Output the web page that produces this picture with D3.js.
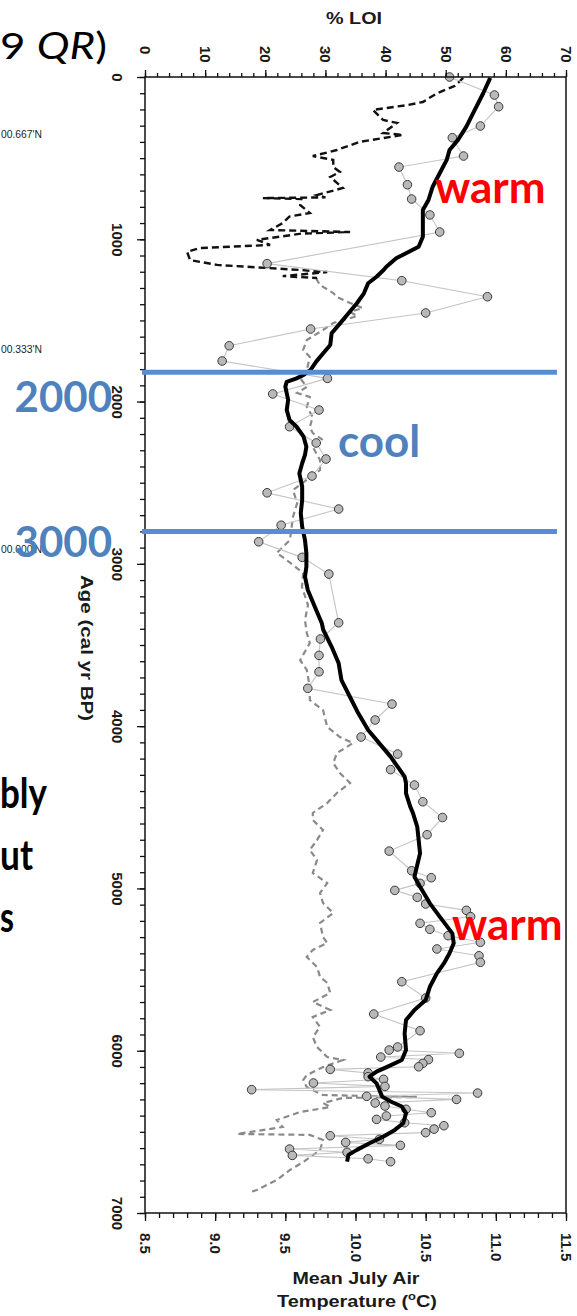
<!DOCTYPE html>
<html><head><meta charset="utf-8">
<script src="https://cdn.jsdelivr.net/npm/d3@7"></script>
<style>body{margin:0;background:#fff;} svg{display:block;}</style>
</head><body><svg id="c" width="577" height="1316"></svg>
<script>
// ---------- data ----------
const ageTicks = [0,1000,2000,3000,4000,5000,6000,7000];
const loiTicks = [0,10,20,30,40,50,60,70];
const tempTicks = [8.5,9.0,9.5,10.0,10.5,11.0,11.5];

// chironomid-inferred July temperature (circles)
const tempAges = [0,111,183,302,374,487,555,664,752,850,955,1150,1255,1354,1454,1553,1656,1750,1857,1953,2052,2155,2255,2354,2459,2562,2662,2762,2864,2960,3063,3363,3463,3564,3665,3767,3864,3962,4067,4172,4268,4363,4466,4563,4669,4770,4891,4934,4969,5012,5055,5096,5135,5174,5215,5252,5291,5332,5373,5415,5455,5575,5675,5774,5877,5977,5996,6016,6039,6055,6078,6099,6115,6137,6160,6176,6199,6220,6240,6261,6281,6300,6322,6341,6361,6382,6402,6423,6444,6462,6483,6505,6524,6546,6565,6583,6606,6626,6645,6666,6684];
const tempValues = [10.67,10.99,11.02,10.89,10.69,10.77,10.31,10.37,10.40,10.53,10.60,9.37,10.33,10.94,10.50,9.68,9.10,9.05,9.80,9.41,9.74,9.53,9.72,9.79,9.69,9.37,9.88,9.47,9.31,9.62,9.81,9.88,9.75,9.74,9.74,9.66,10.26,10.14,10.04,10.30,10.25,10.42,10.48,10.62,10.51,10.24,10.40,10.54,10.46,10.28,10.44,10.50,10.79,10.82,10.46,10.53,10.66,10.89,10.58,10.88,10.89,10.33,10.50,10.13,10.46,10.30,10.24,10.74,10.18,10.52,10.48,10.45,9.82,10.09,10.09,10.20,9.70,10.21,9.26,10.87,10.08,10.72,10.14,10.21,10.36,10.54,10.22,10.15,10.35,10.63,10.56,10.50,9.82,10.17,9.93,10.32,9.53,9.94,9.55,10.09,10.25];

// smoothed temperature (thick black line)
const smoothAges = [5,100,203,306,388,450,511,593,676,758,820,902,984,1046,1086,1117,1169,1189,1231,1271,1333,1394,1456,1518,1579,1651,1702,1754,1805,1836,1857,1878,1908,1990,2052,2114,2155,2216,2278,2329,2380,2442,2525,2607,2688,2771,2853,2935,3018,3079,3161,3264,3366,3406,3511,3613,3716,3819,3921,4024,4106,4188,4250,4311,4352,4414,4496,4537,4620,4702,4784,4856,4928,4989,5092,5174,5277,5338,5400,5462,5523,5606,5688,5749,5811,5893,5996,6057,6098,6129,6160,6201,6242,6283,6313,6344,6385,6447,6488,6529,6570,6611,6642,6684];
const smoothValues = [10.96,10.91,10.85,10.79,10.73,10.67,10.65,10.60,10.55,10.52,10.48,10.48,10.48,10.45,10.36,10.29,10.22,10.20,10.15,10.09,10.06,10.01,9.95,9.89,9.83,9.82,9.77,9.72,9.68,9.63,9.58,9.51,9.50,9.52,9.51,9.53,9.58,9.63,9.65,9.64,9.62,9.60,9.62,9.62,9.61,9.62,9.64,9.65,9.65,9.64,9.66,9.71,9.76,9.77,9.83,9.88,9.90,9.96,10.02,10.09,10.17,10.25,10.30,10.35,10.36,10.36,10.39,10.41,10.44,10.45,10.46,10.44,10.42,10.46,10.53,10.60,10.69,10.70,10.67,10.63,10.58,10.53,10.50,10.42,10.36,10.35,10.36,10.33,10.23,10.15,10.10,10.15,10.17,10.19,10.25,10.33,10.36,10.34,10.28,10.20,10.10,10.01,9.95,9.94];

// % LOI, upper (black) part
const loiAgesUpper = [6,55,99,154,173,203,265,283,345,357,400,450,487,511,555,585,616,684,727,742,746,752,789,838,860,900,943,955,965,1004,1035,1054,1078,1128,1158,1177,1189,1202,1227,1239];
const loiValuesUpper = [52.9,51.5,48.6,46.2,43.6,37.9,39.6,41.9,39.6,42.9,35.7,31.9,27.9,31.3,31.3,32.4,30.8,32.9,28.6,30.0,19.6,26.0,25.8,27.4,24.0,22.9,20.8,34.1,26.0,18.6,20.8,9.1,7.0,7.5,12.0,20.3,25.8,30.3,22.9,28.6];
// % LOI, lower (grey) part
const loiAgesLower = [1239,1251,1282,1331,1356,1393,1424,1448,1473,1516,1559,1621,1682,1725,1806,1855,1910,1947,1972,2033,2095,2157,2194,2237,2280,2360,2422,2545,2625,2711,2853,2933,2958,3056,3143,3254,3346,3426,3488,3593,3654,3759,3839,3901,4005,4067,4104,4166,4227,4289,4350,4412,4474,4535,4578,4640,4702,4763,4825,4905,4967,5028,5090,5151,5213,5299,5336,5379,5422,5484,5545,5582,5644,5700,5749,5792,5854,5916,5977,6039,6057,6101,6150,6181,6224,6273,6285,6291,6322,6347,6378,6427,6470,6513,6516,6519,6550,6612,6686,6735,6797,6858,6871];
const loiValuesLower = [28.6,28.6,29.1,31.3,31.9,34.1,36.2,34.1,35.3,31.3,29.6,26.9,26.3,27.4,26.9,25.8,26.9,25.3,27.4,26.9,27.9,27.4,27.9,29.6,27.9,29.1,29.1,24.6,25.3,24.6,24.1,21.9,22.9,26.3,26.1,27.1,26.6,26.9,27.4,25.8,26.9,27.4,27.4,29.6,30.3,32.4,34.6,31.9,31.3,32.4,34.1,31.9,30.3,27.9,27.9,29.6,28.6,27.4,28.6,27.9,30.3,29.1,29.6,31.3,29.1,29.6,30.3,27.9,26.9,28.6,29.1,30.3,30.8,27.9,30.8,27.9,29.1,27.9,28.6,30.3,32.9,29.6,26.9,26.3,26.9,29.6,45.2,32.9,29.6,30.8,25.8,21.9,22.9,15.3,21.9,27.4,29.6,29.1,26.3,24.1,21.9,18.6,17.5];

// slide annotations
const periodLines = [1820, 2800];
const periodLabels = ["2000", "3000"];
const coordLabels = ["00.667'N","00.333'N","00.000'N"];
const sideWords = ["bly","ut","s"];

// ---------- drawing ----------
const svg = d3.select("#c");
const y = d3.scaleLinear().domain([0,7000]).range([77,1213]);
const xT = d3.scaleLinear().domain([8.5,11.5]).range([145,566]);
const xL = d3.scaleLinear().domain([0,70]).range([145,566]);
const tickFont = "'Liberation Sans', Arial, sans-serif";
const slideFont = "Lato, 'Open Sans', sans-serif";

// LOI dashed line
const lineL = d3.line().x(d=>xL(d[1])).y(d=>y(d[0]));
svg.append("path").datum(d3.zip(loiAgesLower, loiValuesLower))
  .attr("d", lineL).attr("fill","none").attr("stroke","#8a8a8a")
  .attr("stroke-width",2.2).attr("stroke-dasharray","6,4");
svg.append("path").datum(d3.zip(loiAgesUpper, loiValuesUpper))
  .attr("d", lineL).attr("fill","none").attr("stroke","#111")
  .attr("stroke-width",2.4).attr("stroke-dasharray","7,4");

// temperature thin line + circles
const lineT = d3.line().x(d=>xT(d[1])).y(d=>y(d[0]));
const tempData = d3.zip(tempAges, tempValues);
svg.append("path").datum(tempData).attr("d", lineT)
  .attr("fill","none").attr("stroke","#c4c4c4").attr("stroke-width",1.1);
svg.append("g").selectAll("circle").data(tempData).join("circle")
  .attr("cx", d=>xT(d[1])).attr("cy", d=>y(d[0])).attr("r",4.3)
  .attr("fill","#b9b9b9").attr("stroke","#3a3a3a").attr("stroke-width",1);

// smoothed line
svg.append("path").datum(d3.zip(smoothAges, smoothValues)).attr("d", lineT)
  .attr("fill","none").attr("stroke","#000").attr("stroke-width",4)
  .attr("stroke-linejoin","round");

// axes
function styleAxis(g){ g.select(".domain").remove(); g.selectAll("line").attr("stroke","#111").attr("stroke-width",1.3); }
svg.append("g").attr("transform","translate(0,77)")
  .call(d3.axisTop(xL).tickValues(d3.range(0,71,2)).tickSize(4).tickFormat("")).call(styleAxis);
const gTop = svg.append("g").attr("transform","translate(0,77)")
  .call(d3.axisTop(xL).tickValues(loiTicks).tickSize(7).tickFormat(d3.format("d"))).call(styleAxis);
gTop.selectAll("text").attr("x",0).attr("y",0).attr("dy",null)
  .attr("transform","translate(-5.5,-31) rotate(90)").attr("text-anchor","start");
svg.append("g").attr("transform","translate(145,0)")
  .call(d3.axisLeft(y).tickValues(d3.range(0,7001,100)).tickSize(5).tickFormat("")).call(styleAxis);
const gLeft = svg.append("g").attr("transform","translate(145,0)")
  .call(d3.axisLeft(y).tickValues(ageTicks).tickSize(8).tickFormat(d3.format("d"))).call(styleAxis);
gLeft.selectAll("text").attr("x",0).attr("y",0).attr("dy",null)
  .attr("transform","translate(-33,0) rotate(90)").attr("text-anchor","middle");
svg.append("g").attr("transform","translate(0,1213)")
  .call(d3.axisBottom(xT).tickValues(d3.range(85,116).map(d=>d/10)).tickSize(5).tickFormat("")).call(styleAxis);
const gBot = svg.append("g").attr("transform","translate(0,1213)")
  .call(d3.axisBottom(xT).tickValues(tempTicks).tickSize(8).tickFormat(d3.format(".1f"))).call(styleAxis);
gBot.selectAll("text").attr("x",0).attr("y",0).attr("dy",null)
  .attr("transform","translate(-5.5,20) rotate(90)").attr("text-anchor","start");
[gTop,gLeft,gBot].forEach(g=>g.selectAll("text").attr("font-family",tickFont)
  .attr("font-size",15).attr("font-weight","bold").attr("fill","#1a1a1a"));

// frame
svg.append("rect").attr("x",xT(8.5)).attr("y",y(0)).attr("width",xT(11.5)-xT(8.5)).attr("height",y(7000)-y(0))
  .attr("fill","none").attr("stroke","#111").attr("stroke-width",1.5);

// axis titles
svg.append("text").attr("x",354).attr("y",24).attr("text-anchor","middle")
  .attr("font-family",tickFont).attr("font-weight","bold").attr("font-size",17)
  .attr("textLength",56).attr("lengthAdjust","spacingAndGlyphs").attr("fill","#1a1a1a").text("% LOI");
svg.append("text").attr("x",356).attr("y",1284).attr("text-anchor","middle")
  .attr("font-family",tickFont).attr("font-weight","bold").attr("font-size",17)
  .attr("textLength",127).attr("lengthAdjust","spacingAndGlyphs").attr("fill","#1a1a1a").text("Mean July Air");
const tt = svg.append("text").attr("x",357).attr("y",1307).attr("text-anchor","middle")
  .attr("font-family",tickFont).attr("font-weight","bold").attr("font-size",17)
  .attr("textLength",160).attr("lengthAdjust","spacingAndGlyphs").attr("fill","#1a1a1a");
tt.append("tspan").text("Temperature (");
tt.append("tspan").attr("dy",-7).attr("font-size",11).text("o");
tt.append("tspan").attr("dy",7).text("C)");
svg.append("text").attr("transform","translate(81,648) rotate(90)").attr("text-anchor","middle")
  .attr("font-family",tickFont).attr("font-weight","bold").attr("font-size",16)
  .attr("textLength",146).attr("lengthAdjust","spacingAndGlyphs").attr("fill","#1a1a1a").text("Age (cal yr BP)");

// slide text at the left edge
const t1 = svg.append("text").attr("x",0).attr("y",59)
  .attr("font-family",slideFont).attr("font-size",37).attr("fill","#000")
  .attr("textLength",107).attr("lengthAdjust","spacingAndGlyphs");
t1.append("tspan").text("9 ");
t1.append("tspan").attr("font-style","italic").text("QR");
t1.append("tspan").text(")");
svg.append("g").selectAll("text").data(coordLabels).join("text")
  .attr("x",1).attr("y",(d,i)=>[138,353,553][i])
  .attr("font-family",tickFont).attr("font-size",10).attr("fill","#222")
  .attr("textLength",41).attr("lengthAdjust","spacingAndGlyphs").text(d=>d);
svg.append("g").selectAll("text").data(sideWords).join("text")
  .attr("x",0).attr("y",(d,i)=>[808,870,932][i])
  .attr("textLength",(d,i)=>[47,33,14][i]).attr("lengthAdjust","spacingAndGlyphs")
  .attr("font-family",slideFont).attr("font-weight","bold").attr("font-size",42).attr("fill","#000").text(d=>d);

// slide overlay: blue period lines and labels
svg.append("g").selectAll("line").data(periodLines).join("line")
  .attr("x1",142).attr("x2",557).attr("y1",d=>y(d)).attr("y2",d=>y(d))
  .attr("stroke","#558ED5").attr("stroke-width",5);
svg.append("g").selectAll("text").data(periodLabels).join("text")
  .attr("x",112).attr("y",(d,i)=>[412,557][i]).attr("text-anchor","end")
  .attr("font-family",slideFont).attr("font-weight","bold").attr("font-size",42)
  .attr("fill","#4F81BD").text(d=>d);
svg.append("text").attr("x",338).attr("y",457).attr("font-family",slideFont)
  .attr("font-weight","bold").attr("font-size",44).attr("fill","#4F81BD").text("cool");
svg.append("text").attr("x",435).attr("y",203).attr("font-family",slideFont)
  .attr("font-weight","bold").attr("font-size",44).attr("fill","#FF0000").text("warm");
svg.append("text").attr("x",452).attr("y",940).attr("font-family",slideFont)
  .attr("font-weight","bold").attr("font-size",44).attr("fill","#FF0000").text("warm");
</script></body></html>
